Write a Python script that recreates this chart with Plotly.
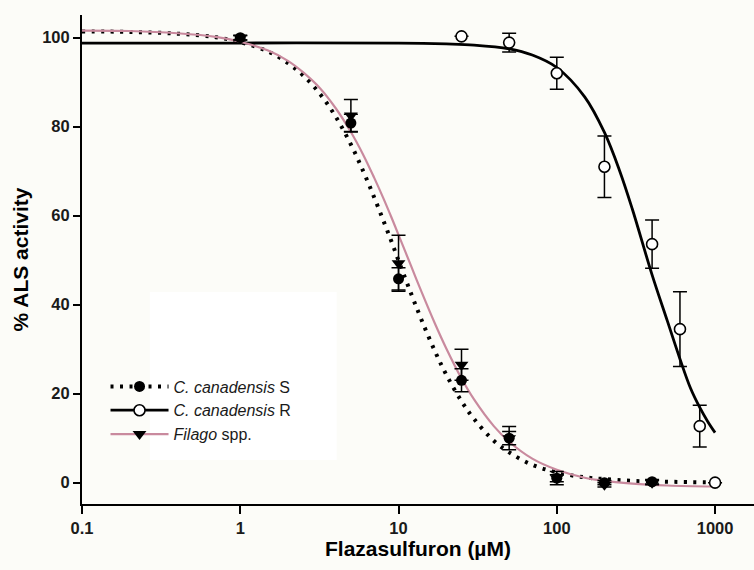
import plotly.graph_objects as go

# ---------------- data ----------------
conc_S = [1, 5, 10, 25, 50, 100, 200, 400]
act_S = [100.0, 80.8, 45.8, 23.0, 10.0, 1.0, 0.0, 0.2]
err_S = [0.5, 2.0, 2.5, 2.6, 1.5, 0.8, 0.5, 0.5]

conc_F = [1, 5, 10, 25, 50, 100, 200, 400]
act_F = [100.0, 82.5, 49.3, 26.5, 10.0, 1.0, -0.5, 0.0]
err_F = [0.5, 3.6, 6.3, 3.5, 2.6, 1.5, 0.5, 0.5]

conc_R = [25, 50, 100, 200, 400, 600, 800, 1000]
act_R = [100.3, 98.9, 92.0, 71.0, 53.6, 34.5, 12.7, 0.0]
err_R = [0.0, 2.1, 3.6, 6.9, 5.4, 8.4, 4.7, 0.0]

# fitted curves
curve_x = [0.1, 0.2, 0.4, 0.7, 1, 1.5, 2, 2.5, 3.2, 4, 5, 6, 7, 8, 9, 10, 12, 14, 17,
           20, 25, 30, 40, 50, 70, 100, 150, 200, 300, 500, 1000]
curve_S = [101.4, 101.3, 100.9, 100.1, 99.0, 96.9, 94.3, 91.5, 87.3, 82.3, 76.0, 69.9,
           64.2, 59.0, 54.3, 49.9, 42.5, 36.5, 29.5, 24.3, 18.3, 14.3, 9.4, 6.8, 4.0,
           2.3, 1.2, 0.8, 0.4, 0.2, 0.06]
curve_F = [101.6, 101.5, 101.0, 100.2, 99.1, 97.1, 94.8, 92.2, 88.6, 84.2, 78.8, 73.6,
           68.6, 64.0, 59.7, 55.7, 48.7, 42.8, 35.7, 30.2, 23.4, 18.7, 12.7, 9.2, 5.4,
           2.9, 1.1, 0.4, -0.23, -0.64, -0.87]
curveR_x = [0.1, 1, 10, 20, 30, 50, 70, 100, 150, 200, 250, 300, 400, 500, 600, 700,
            800, 900, 1000]
curve_R = [98.8, 98.8, 98.8, 98.6, 98.35, 97.5, 96.1, 93.3, 86.7, 78.7, 70.0, 61.5,
           46.7, 36.3, 27.8, 21.2, 16.9, 13.7, 11.25]

x_tickvals = [0.1, 1, 10, 100, 1000]
x_ticktext = ["0.1", "1", "10", "100", "1000"]
y_tickvals = [0, 20, 40, 60, 80, 100]

names = ["<i>C. canadensis</i> S", "<i>C. canadensis</i> R", "<i>Filago</i> spp."]

PINK = "#C98A9E"
BG = "#FCFCF8"
FONT = "Arial, Liberation Sans, sans-serif"
DOT = "3px,6.5px"

fig = go.Figure()

# curves
fig.add_trace(go.Scatter(x=curve_x, y=curve_S, mode="lines", line_shape="spline",
                         line=dict(color="black", width=4, dash=DOT), showlegend=False,
                         hoverinfo="skip"))
fig.add_trace(go.Scatter(x=curveR_x, y=curve_R, mode="lines", line_shape="spline",
                         line=dict(color="black", width=2.8), showlegend=False,
                         hoverinfo="skip"))
fig.add_trace(go.Scatter(x=curve_x, y=curve_F, mode="lines", line_shape="spline",
                         line=dict(color=PINK, width=2.2), showlegend=False,
                         hoverinfo="skip"))

eb = dict(type="data", color="black", thickness=1.5, width=7)

# data points
fig.add_trace(go.Scatter(x=conc_S, y=act_S, mode="markers",
                         error_y=dict(array=err_S, **eb),
                         marker=dict(symbol="circle", size=11, color="black"),
                         showlegend=False))
fig.add_trace(go.Scatter(x=conc_F, y=act_F, mode="markers",
                         error_y=dict(array=err_F, **eb),
                         marker=dict(symbol="triangle-down", size=12, color="black"),
                         showlegend=False))
fig.add_trace(go.Scatter(x=conc_R, y=act_R, mode="markers",
                         error_y=dict(array=err_R, **eb),
                         marker=dict(symbol="circle", size=11, color="white",
                                     line=dict(color="black", width=1.6)),
                         showlegend=False))

# legend entries
fig.add_trace(go.Scatter(x=[None], y=[None], mode="lines+markers", name=names[0],
                         line=dict(color="black", width=4, dash=DOT),
                         marker=dict(symbol="circle", size=11, color="black")))
fig.add_trace(go.Scatter(x=[None], y=[None], mode="lines+markers", name=names[1],
                         line=dict(color="black", width=2.8),
                         marker=dict(symbol="circle", size=11, color="white",
                                     line=dict(color="black", width=1.6))))
fig.add_trace(go.Scatter(x=[None], y=[None], mode="lines+markers", name=names[2],
                         line=dict(color=PINK, width=2.2),
                         marker=dict(symbol="triangle-down", size=12, color="black")))

fig.update_layout(
    width=754, height=570,
    margin=dict(l=82, r=0, t=15, b=66),
    paper_bgcolor=BG, plot_bgcolor=BG,
    font=dict(family=FONT, color="black"),
    legend=dict(x=0.035, y=0.275, xanchor="left", yanchor="top",
                bgcolor="rgba(0,0,0,0)", font=dict(size=16, family=FONT, color="#1a1a1a"),
                itemwidth=58, tracegroupgap=0),
    shapes=[dict(type="rect", xref="paper", yref="paper", x0=0.101, x1=0.379,
                 y0=0.09, y1=0.4335, fillcolor="#FFFFFF", line=dict(width=0),
                 layer="below")],
)

fig.update_xaxes(type="log", range=[-1, 3.246], tickvals=x_tickvals, ticktext=x_ticktext,
                 showgrid=False, zeroline=False, showline=True, linecolor="black",
                 linewidth=2, ticks="outside", ticklen=8, tickwidth=1.5,
                 tickcolor="black", tickfont=dict(size=16.5, weight="bold", color="#1a1a1a"),
                 title=dict(text="Flazasulfuron (µM)", standoff=4,
                            font=dict(size=21, weight="bold")))
fig.update_yaxes(range=[-4.8, 105.1], tickvals=y_tickvals, showgrid=False,
                 zeroline=False, showline=True, linecolor="black", linewidth=2,
                 ticks="outside", ticklen=7, tickwidth=1.5, tickcolor="black",
                 tickfont=dict(size=16.5, weight="bold", color="#1a1a1a"),
                 title=dict(text="% ALS activity", standoff=8,
                            font=dict(size=21, weight="bold")))

fig.write_html("out.html", config={"displayModeBar": False},
               post_script="document.body.style.margin='0';"
                           "document.body.style.background='#FCFCF8';")
